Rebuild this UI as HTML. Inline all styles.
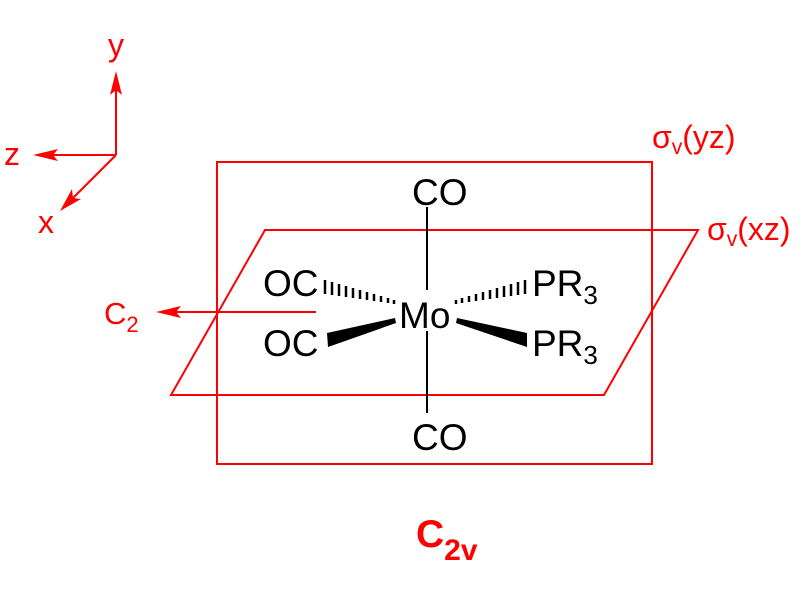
<!DOCTYPE html>
<html><head><meta charset="utf-8"><style>html,body{margin:0;padding:0;background:#fff}svg{display:block}</style></head>
<body>
<svg width="800" height="597" viewBox="0 0 800 597" xmlns="http://www.w3.org/2000/svg" font-family="Liberation Sans, Arial, sans-serif">
<g stroke="#ff0000" stroke-width="2" fill="none">
<rect x="217" y="162" width="435" height="302"/>
<polygon points="265,230 698,230 604,395 171,395"/>
<line x1="116" y1="155" x2="116" y2="88"/>
<line x1="116" y1="155" x2="48" y2="155"/>
<line x1="116" y1="155" x2="70" y2="201"/>
<line x1="316" y1="312" x2="170" y2="312"/>
</g>
<g fill="#ff0000">
<polygon points="116,71 110,95 116,90 122,95"/>
<polygon points="33,155 58,149 53,155 58,161"/>
<polygon points="60,211 72,189 73,198 81,199"/>
<polygon points="156,312 181,306 176,312 181,318"/>
</g>
<g fill="#ff0000" font-size="32">
<text x="108" y="56">y</text>
<text x="4" y="165">z</text>
<text x="38" y="233">x</text>
<text x="104" y="324" font-size="31">C<tspan font-size="22" dy="8">2</tspan></text>
<text x="652" y="148" font-size="32">σ<tspan font-size="21" dy="6">v</tspan><tspan dy="-6">(yz)</tspan></text>
<text x="707" y="240" font-size="32">σ<tspan font-size="21" dy="6">v</tspan><tspan dy="-6">(xz)</tspan></text>
<text x="416" y="547" font-size="39" font-weight="bold">C<tspan font-size="30" dy="13">2v</tspan></text>
</g>
<g stroke="#000" stroke-width="2">
<line x1="427" y1="207" x2="427" y2="290"/>
<line x1="427" y1="331" x2="427" y2="413"/>
</g>
<g stroke="#000" stroke-width="2.5">
<line x1="325" y1="280" x2="325" y2="294"/><line x1="332" y1="282" x2="332" y2="295"/><line x1="339" y1="284" x2="339" y2="296"/><line x1="346" y1="286" x2="346" y2="297"/><line x1="353" y1="288" x2="353" y2="298"/><line x1="360" y1="290" x2="360" y2="299"/><line x1="367" y1="292" x2="367" y2="300"/><line x1="374" y1="294" x2="374" y2="301"/><line x1="381" y1="296" x2="381" y2="302"/><line x1="388" y1="298" x2="388" y2="303"/><line x1="394" y1="300" x2="394" y2="304"/>
<line x1="525" y1="280" x2="525" y2="294"/><line x1="518" y1="282" x2="518" y2="295"/><line x1="511" y1="284" x2="511" y2="296"/><line x1="504" y1="286" x2="504" y2="297"/><line x1="497" y1="288" x2="497" y2="298"/><line x1="490" y1="290" x2="490" y2="299"/><line x1="483" y1="292" x2="483" y2="300"/><line x1="476" y1="294" x2="476" y2="301"/><line x1="469" y1="296" x2="469" y2="302"/><line x1="462" y1="298" x2="462" y2="303"/><line x1="456" y1="300" x2="456" y2="304"/>
</g>
<g fill="#000">
<polygon points="395,318 396,323 328,347 327,333"/>
<polygon points="457,318 456,323 527,347 527,333"/>
</g>
<g fill="#000" font-size="37">
<text x="412" y="205">CO</text>
<text x="412" y="450">CO</text>
<text x="399" y="328">Mo</text>
<text x="263" y="296">OC</text>
<text x="263" y="356">OC</text>
<text x="532" y="296">PR<tspan font-size="26" dy="8">3</tspan></text>
<text x="532" y="356">PR<tspan font-size="26" dy="8">3</tspan></text>
</g>
</svg>
</body></html>
